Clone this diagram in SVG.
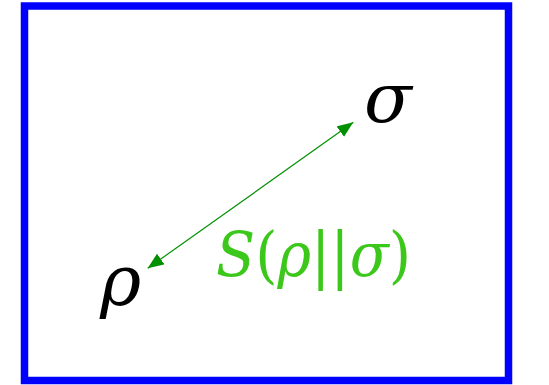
<svg xmlns="http://www.w3.org/2000/svg" width="549" height="385" viewBox="0 0 549 385">
<style>
.sym{font-family:"DejaVu Serif",serif;font-style:italic;fill:#000}
.lbl{font-family:"DejaVu Serif",serif;fill:#3cc81a;font-size:62px}
.it{font-style:italic}
.conn{stroke:#009000;stroke-width:1.2;fill:none}
</style>
<defs>
<marker id="ah" viewBox="0 0 16 13" refX="16" refY="6.5" markerWidth="16" markerHeight="13" markerUnits="userSpaceOnUse" orient="auto-start-reverse">
<path d="M0,0 L16,6.5 L0,13 Z" fill="#009000"/>
</marker>
</defs>
<rect x="24.5" y="6" width="484" height="374.5" fill="#fff" stroke="#0000ff" stroke-width="7.5"/>
<g id="connectors">
<line class="conn" x1="147.7" y1="268.3" x2="353.3" y2="122.3" marker-start="url(#ah)" marker-end="url(#ah)"/>
</g>
<g id="sigma"><text class="sym" x="364" y="122" font-size="70">σ</text></g>
<g id="rho"><text class="sym" x="100" y="305" font-size="70">ρ</text></g>
<g id="label"><text class="lbl" x="216" y="276" textLength="195" lengthAdjust="spacingAndGlyphs"><tspan class="it">S</tspan>(<tspan class="it">ρ</tspan>||<tspan class="it">σ</tspan>)</text></g>
</svg>
